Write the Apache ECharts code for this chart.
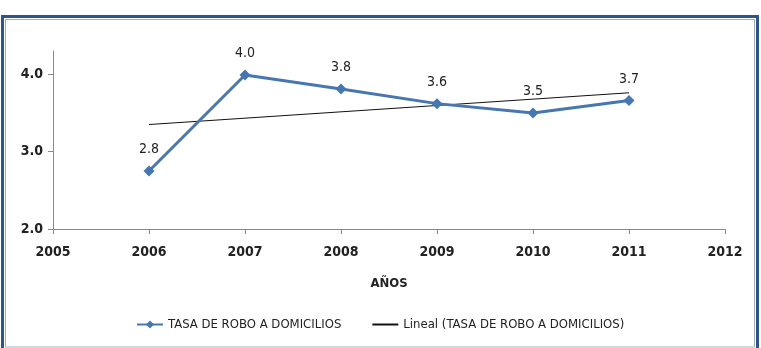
<!DOCTYPE html>
<html>
<head>
<meta charset="utf-8">
<script src="https://cdn.jsdelivr.net/npm/echarts@6/dist/echarts.min.js"></script>
<style>
  html, body { margin: 0; padding: 0; background: #fff; }
  #chart { width: 761px; height: 348px; }
</style>
</head>
<body>
<div id="chart"></div>
<script>
// valores
var years = [2006, 2007, 2008, 2009, 2010, 2011];
var tasa = [2.75, 3.99, 3.81, 3.62, 3.50, 3.66];
// linea de tendencia (extremos leidos)
var trendYears = [2006, 2011];
var trendValues = [3.35, 3.76];
var yTicks = [2, 3, 4];

var font = "'Liberation Sans Narrow', 'DejaVu Sans Condensed', sans-serif";

var serieTasa = years.map(function (y, i) { return [y, tasa[i]]; });
var serieTrend = trendYears.map(function (y, i) { return [y, trendValues[i]]; });

var myChart = echarts.init(document.getElementById('chart'));
myChart.setOption({
    animation: false,
    textStyle: { fontFamily: font },
    graphic: [
        {
            type: 'rect',
            shape: { x: 2.5, y: 16.5, width: 755, height: 345 },
            style: { fill: '#fff', stroke: '#2E5588', lineWidth: 3 },
            z: -10
        },
        {
            type: 'rect',
            shape: { x: 5.5, y: 19.5, width: 749, height: 327.5 },
            style: { fill: 'none', stroke: '#A4ABB8', lineWidth: 1 },
            z: -9
        }
    ],
    grid: { left: 53, right: 36, top: 51, bottom: 119, containLabel: false },
    legend: {
        left: 131,
        top: 313,
        itemWidth: 26,
        itemHeight: 10,
        itemGap: 30,
        textStyle: { fontFamily: font, fontSize: 13, color: '#222' },
        data: [
            { name: 'TASA DE ROBO A DOMICILIOS' },
            { name: 'Lineal (TASA DE ROBO A DOMICILIOS)', itemStyle: { color: 'rgba(0,0,0,0)', borderWidth: 0 } }
        ]
    },
    xAxis: {
        type: 'value',
        min: 2005,
        max: 2012,
        interval: 1,
        name: 'AÑOS',
        nameLocation: 'middle',
        nameGap: 48,
        nameTextStyle: { fontFamily: font, fontSize: 13, fontWeight: 'bold', color: '#222' },
        splitLine: { show: false },
        axisLine: { lineStyle: { color: '#8A8A8A' } },
        axisTick: { length: 5, lineStyle: { color: '#8A8A8A' } },
        axisLabel: {
            margin: 16,
            fontFamily: font,
            fontSize: 14,
            fontWeight: 'bold',
            color: '#222',
            formatter: function (v) { return String(v); }
        }
    },
    yAxis: {
        type: 'value',
        min: 2,
        max: 4.3,
        interval: 1,
        splitLine: { show: false },
        axisLine: { show: true, lineStyle: { color: '#8A8A8A' } },
        axisTick: { show: true, length: 5, customValues: yTicks, lineStyle: { color: '#8A8A8A' } },
        axisLabel: {
            margin: 10,
            fontFamily: font,
            fontSize: 14,
            fontWeight: 'bold',
            color: '#222',
            customValues: yTicks,
            formatter: function (v) { return v.toFixed(1); }
        }
    },
    series: [
        {
            name: 'TASA DE ROBO A DOMICILIOS',
            type: 'line',
            data: serieTasa,
            symbol: 'diamond',
            symbolSize: 11,
            color: '#4677B0',
            lineStyle: { width: 3, color: '#4677B0' },
            itemStyle: { color: '#4677B0' },
            label: {
                show: true,
                position: 'top',
                distance: 9,
                fontFamily: font,
                fontSize: 14,
                color: '#222',
                formatter: function (p) { return p.value[1].toFixed(1); }
            },
            z: 3
        },
        {
            name: 'Lineal (TASA DE ROBO A DOMICILIOS)',
            type: 'line',
            data: serieTrend,
            symbol: 'none',
            color: '#111',
            lineStyle: { width: 1, color: '#111' },
            z: 2
        }
    ]
});
</script>
</body>
</html>
